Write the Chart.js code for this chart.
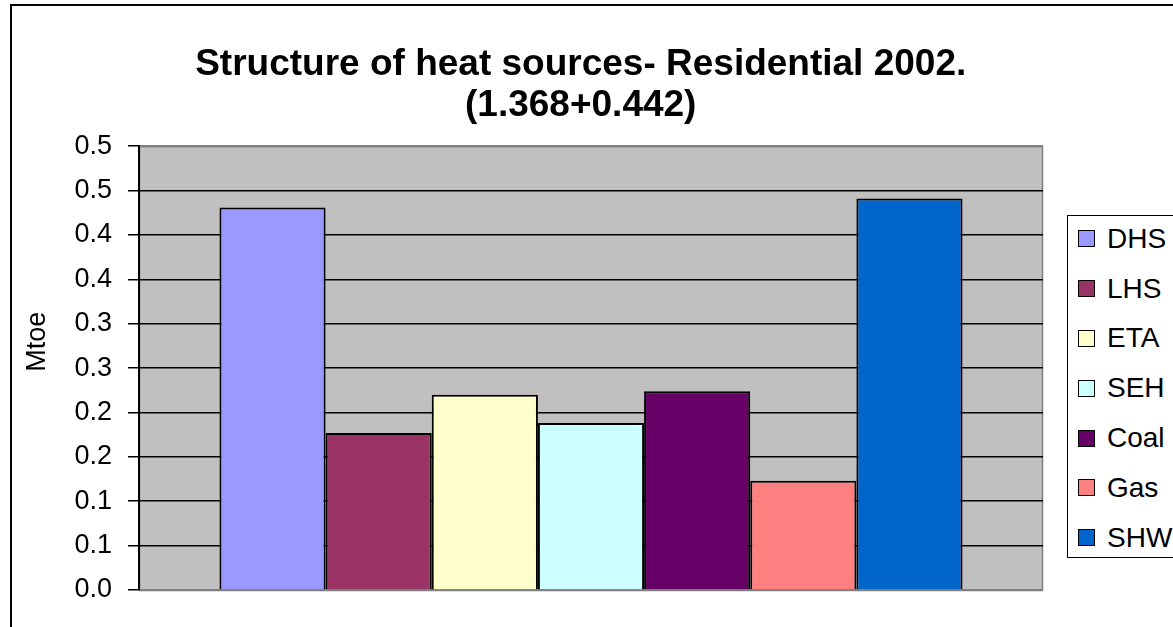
<!doctype html>
<html lang="en">
<head>
	<meta charset="utf-8">
	<title>Structure of heat sources- Residential 2002.</title>
	<script src="https://cdn.jsdelivr.net/npm/chart.js@4.4.1/dist/chart.umd.min.js"></script>
	<style>
		html, body { margin: 0; padding: 0; background: #fff; overflow: hidden; }
		#frame { position: absolute; left: 10px; top: 4px; width: 1250px; height: 700px; border: 2px solid #000; background: #fff; }
		#chart { position: absolute; left: 0; top: 0; }
		#legend { position: absolute; left: 1067px; top: 215px; width: 200px; height: 341px; border: 1.5px solid #000; background: #fff;
			font-family: Arial, 'Liberation Sans', sans-serif; font-size: 28px; color: #000; }
		#legend .item { height: 49.8px; display: flex; align-items: center; }
		#legend .item:first-child { margin-top: -2px; }
		#legend .box { width: 15px; height: 15px; border: 1.5px solid #000; margin-left: 10px; margin-right: 12px; }
	</style>
</head>
<body>
	<div id="frame">
		<canvas id="chart" width="1230" height="650"></canvas>
	</div>
	<div id="legend"></div>

	<script>
	// values (Mtoe)
	const sources = ['DHS', 'LHS', 'ETA', 'SEH', 'Coal', 'Gas', 'SHW'];
	const values = [0.431, 0.177, 0.220, 0.188, 0.224, 0.123, 0.441];
	const colours = ['#9999FF', '#993366', '#FFFFCC', '#CCFFFF', '#660066', '#FF8080', '#0066CC'];
	const categories = [''];
	const titleLines = ['Structure of heat sources- Residential 2002.', '(1.368+0.442)'];
	const yTitle = 'Mtoe';

	const font = "Arial, 'Liberation Sans', sans-serif";

	// grey plot area like the old excel charts
	const plotArea = {
		id: 'plotArea',
		beforeDraw(chart) {
			const {ctx, chartArea: a} = chart;
			ctx.save();
			ctx.fillStyle = '#C0C0C0';
			ctx.fillRect(a.left, a.top, a.right - a.left, a.bottom - a.top);
			ctx.strokeStyle = '#808080';
			ctx.lineWidth = 1.5;
			ctx.strokeRect(a.left + 0.5, a.top + 0.5, a.right - a.left - 1, a.bottom - a.top);
			ctx.restore();
		}
	};

	const datasets = sources.map((s, i) => ({
		label: s,
		data: [values[i]],
		backgroundColor: colours[i],
		borderColor: '#000',
		borderWidth: 2
	}));

	const chart = new Chart(document.getElementById('chart'), {
		type: 'bar',
		data: { labels: categories, datasets: datasets },
		options: {
			responsive: false,
			animation: false,
			devicePixelRatio: 1,
			layout: { padding: { left: 0, right: 199, top: 0, bottom: 66 } },
			datasets: { bar: { categoryPercentage: 0.822, barPercentage: 1 } },
			plugins: {
				legend: { display: false },
				tooltip: { enabled: false },
				title: {
					display: true,
					fullSize: false,
					// trailing spaces nudge the centred lines a bit left, as in the original
					text: titleLines.map(t => t + '  '),
					color: '#000',
					font: { family: font, size: 37, weight: 'bold', lineHeight: 1.12 },
					padding: { top: 38, bottom: 19.3 }
				}
			},
			scales: {
				x: { type: 'category', display: false },
				y: {
					min: 0,
					max: 0.5,
					afterFit: s => { s.width = 127; },
					ticks: {
						stepSize: 0.05,
						padding: 16,
						color: '#000',
						font: { family: font, size: 27 },
						callback: v => (Math.round(v * 10) / 10).toFixed(1)
					},
					grid: {
						color: c => (c.tick && (c.tick.value === 0 || c.tick.value === 0.5)) ? '#808080' : '#000',
						tickColor: '#000',
						tickLength: 11,
						lineWidth: 1.5
					},
					border: { color: '#000', width: 2 },
					title: {
						display: true,
						text: '       ' + yTitle,
						color: '#000',
						font: { family: font, size: 27, lineHeight: 1.2 },
						padding: { top: 9, bottom: 0 }
					}
				}
			}
		},
		plugins: [plotArea]
	});

	// legend built from the chart datasets
	const legendEl = document.getElementById('legend');
	chart.data.datasets.forEach(ds => {
		const row = document.createElement('div');
		row.className = 'item';
		const box = document.createElement('span');
		box.className = 'box';
		box.style.background = ds.backgroundColor;
		const txt = document.createElement('span');
		txt.textContent = ds.label;
		row.appendChild(box);
		row.appendChild(txt);
		legendEl.appendChild(row);
	});
	</script>
</body>
</html>
